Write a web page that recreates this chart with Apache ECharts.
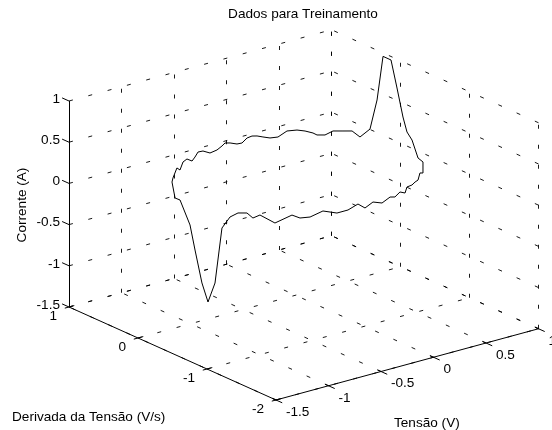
<!DOCTYPE html>
<html><head><meta charset="utf-8">
<script src="https://cdn.jsdelivr.net/npm/echarts@6/dist/echarts.min.js"></script>
<style>html,body{margin:0;padding:0;background:#fff}#c{width:552px;height:430px}</style>
</head><body><div id="c"></div>
<script>
// ---- data (training set: voltage, its derivative, current) ----
const tensao = [-1.012,-0.996,-0.934,-0.887,-0.842,-0.782,-0.708,-0.665,-0.622,-0.552,-0.456,-0.364,-0.300,-0.262,-0.200,-0.117,-0.059,-0.002,0.052,0.106,0.167,0.237,0.312,0.392,0.475,0.537,0.595,0.622,0.674,0.722,0.771,0.820,0.854,0.891,0.914,0.965,0.970,0.974,0.977,0.979,0.981,0.983,0.984,
0.984,0.937,0.906,0.860,0.814,0.739,0.710,0.637,0.566,0.497,0.389,0.272,0.173,0.089,-0.025,-0.144,-0.284,-0.402,-0.487,-0.550,-0.670,-0.761,-0.799,-0.829,-0.869,-0.901,-0.929,-0.950,-0.968,-0.981,-0.993,-1.000,-1.009,-1.011,-1.012];
const derivada = [0.250,0.260,0.297,0.324,0.349,0.383,0.422,0.445,0.466,0.501,0.545,0.584,0.609,0.623,0.644,0.670,0.686,0.699,0.710,0.719,0.726,0.730,0.729,0.720,0.701,0.679,0.652,0.635,0.598,0.555,0.499,0.428,0.365,0.276,0.209,0.200,0.092,0.011,-0.071,-0.126,-0.196,-0.280,-0.350,
-0.350,-0.378,-0.397,-0.424,-0.449,-0.491,-0.507,-0.545,-0.580,-0.614,-0.662,-0.709,-0.744,-0.770,-0.799,-0.820,-0.830,-0.823,-0.806,-0.786,-0.722,-0.643,-0.599,-0.558,-0.489,-0.422,-0.348,-0.279,-0.205,-0.137,-0.055,0.007,0.138,0.207,0.250];
const corrente = [0.130,0.170,0.256,0.205,0.277,0.280,0.215,0.240,0.278,0.253,0.179,0.169,0.186,0.204,0.175,0.124,0.110,0.146,0.147,0.126,0.090,0.052,0.038,0.087,0.077,0.052,0.018,-0.009,-0.013,0.035,0.039,0.049,-0.012,0.105,0.475,0.990,0.985,0.674,0.352,0.190,0.118,-0.069,-0.091,
-0.225,-0.198,-0.266,-0.264,-0.275,-0.257,-0.314,-0.262,-0.285,-0.249,-0.266,-0.196,-0.221,-0.134,-0.156,-0.144,-0.067,-0.102,-0.091,-0.041,-0.120,-0.021,-0.061,-0.005,-0.017,-0.080,-0.232,-0.918,-1.170,-0.960,-0.587,-0.304,-0.047,-0.048,0.130];

const xTicks = [-1.5,-1,-0.5,0,0.5,1];
const yTicks = [1,0,-1,-2];
const zTicks = [-1.5,-1,-0.5,0,0.5,1];
const xTickLabels = ['-1.5','-1','-0.5','0','0.5','1'];
const yTickLabels = ['1','0','-1','-2'];
const zTickLabels = ['-1.5','-1','-0.5','0','0.5','1'];
const titleText = 'Dados para Treinamento';
const xName = 'Tensão (V)';
const yName = 'Derivada da Tensão (V/s)';
const zName = 'Corrente (A)';

// ---- view: orthographic 3-D projection (MATLAB default view) ----
const VX = [105, 28.5], VY = [-69, 31], VZ = [0, 82.4];
function proj(x, y, z) { return [VX[0]*x + VY[0]*y + VZ[0]*z, VX[1]*x + VY[1]*y + VZ[1]*z]; }
const X0 = xTicks[0], X1 = xTicks[xTicks.length-1];
const Y0 = yTicks[yTicks.length-1], Y1 = yTicks[0];
const Z0 = zTicks[0], Z1 = zTicks[zTicks.length-1];

const FONT = '13.6px "Liberation Sans", Arial, sans-serif';

// grid lines on back walls and floor
const gridSegs = [];
function seg(a, b) { gridSegs.push({coords: [proj(...a), proj(...b)]}); }
xTicks.forEach(x => { seg([x, Y1, Z0], [x, Y1, Z1]); seg([x, Y0, Z0], [x, Y1, Z0]); });
zTicks.forEach(z => { seg([X0, Y1, z], [X1, Y1, z]); seg([X1, Y0, z], [X1, Y1, z]); });
yTicks.forEach(y => { seg([X1, y, Z0], [X1, y, Z1]); seg([X0, y, Z0], [X1, y, Z0]); });

// axis lines and ticks
const axisSegs = [];
function aseg(a, b) { axisSegs.push({coords: [proj(...a), proj(...b)]}); }
aseg([X0, Y1, Z0], [X0, Y1, Z1]);
aseg([X0, Y0, Z0], [X0, Y1, Z0]);
aseg([X0, Y0, Z0], [X1, Y0, Z0]);
zTicks.forEach(z => aseg([X0, Y1, z], [X0, Y1 + 0.1, z]));
yTicks.forEach(y => aseg([X0 - 0.04, y, Z0], [X0 + 0.05, y, Z0]));
xTicks.forEach(x => aseg([x, Y0 + 0.05, Z0], [x, Y0 - 0.09, Z0]));

// tick labels
const labels = [];
zTicks.forEach((z, i) => labels.push({p: proj(X0, Y1, z), t: zTickLabels[i], dx: -9, dy: -2, align: 'right'}));
yTicks.forEach((y, i) => labels.push({p: proj(X0, y, Z0), t: yTickLabels[i], dx: -12, dy: 9, align: 'right'}));
xTicks.forEach((x, i) => labels.push({p: proj(x, Y0, Z0), t: xTickLabels[i], dx: 10, dy: 12, align: 'left'}));

const curve = tensao.map((x, i) => proj(x, derivada[i], corrente[i]));

const chart = echarts.init(document.getElementById('c'), null, {renderer: 'canvas'});
chart.setOption({
  animation: false,
  backgroundColor: '#fff',
  grid: {left: 0, right: 0, top: 0, bottom: 0},
  xAxis: {type: 'value', min: -295.5, max: 256.5, show: false},
  yAxis: {type: 'value', min: -258.35, max: 171.65, show: false},
  graphic: [
    {type: 'text', x: 303, y: 14, style: {text: titleText, font: FONT, fill: '#000', align: 'center', verticalAlign: 'middle'}},
    {type: 'text', x: 22, y: 205, rotation: Math.PI/2, style: {text: zName, font: FONT, fill: '#000', align: 'center', verticalAlign: 'middle'}},
    {type: 'text', x: 12, y: 417, style: {text: yName, font: FONT, fill: '#000', align: 'left', verticalAlign: 'middle'}},
    {type: 'text', x: 394, y: 423, style: {text: xName, font: FONT, fill: '#000', align: 'left', verticalAlign: 'middle'}}
  ],
  series: [
    {type: 'lines', coordinateSystem: 'cartesian2d', polyline: false, silent: true,
     lineStyle: {color: '#000', width: 0.9, type: [4, 16], opacity: 1}, data: gridSegs},
    {type: 'lines', coordinateSystem: 'cartesian2d', polyline: false, silent: true,
     lineStyle: {color: '#000', width: 1, type: 'solid', opacity: 1}, data: axisSegs},
    {type: 'line', data: curve, symbol: 'none', smooth: false, silent: true,
     lineStyle: {color: '#000', width: 1}},
    {type: 'custom', silent: true, data: labels.map(l => l.p),
     renderItem: function (params, api) {
       const l = labels[params.dataIndex];
       const c = api.coord([api.value(0), api.value(1)]);
       return {type: 'text', x: c[0] + l.dx, y: c[1] + l.dy,
               style: {text: l.t, font: FONT, fill: '#000', align: l.align, verticalAlign: 'middle'}};
     }}
  ]
});
</script>
</body></html>
